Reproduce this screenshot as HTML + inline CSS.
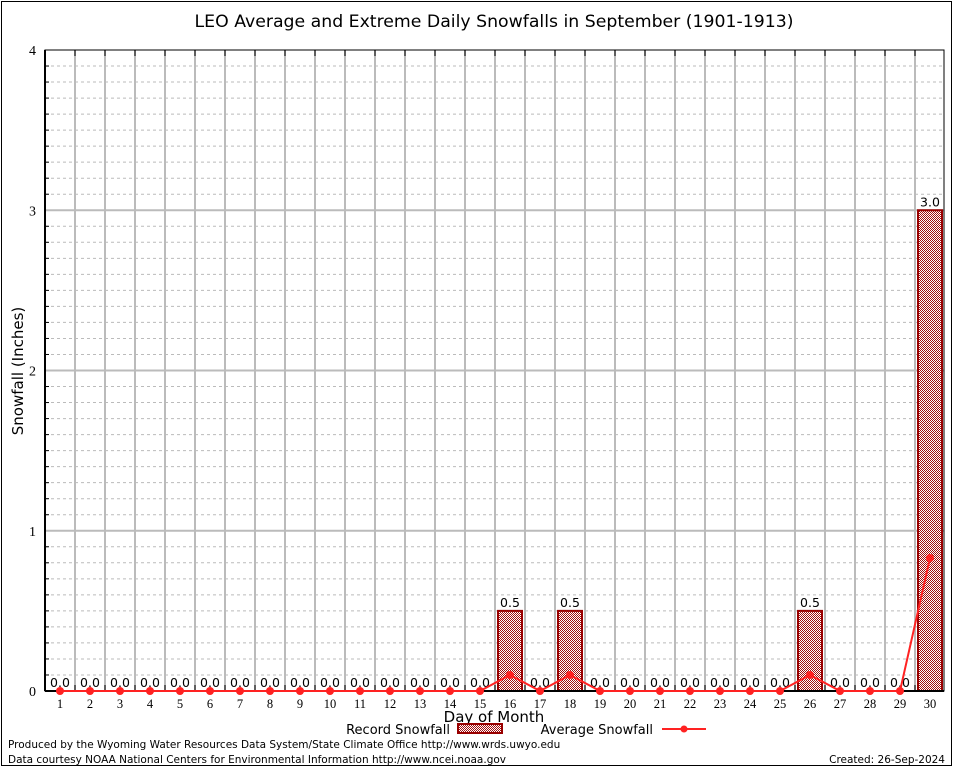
<!DOCTYPE html>
<html><head><meta charset="utf-8"><style>
body{margin:0;background:#fff}
svg{display:block;font-family:"DejaVu Sans","Liberation Sans",sans-serif}
</style></head><body>
<svg id="c" width="954" height="768">
<defs>
<pattern id="chk" width="2" height="2" patternUnits="userSpaceOnUse">
<rect width="2" height="2" fill="#fff"/><rect width="1" height="1" fill="#a01010"/><rect x="1" y="1" width="1" height="1" fill="#a01010"/>
</pattern>
</defs>
<rect x="1.5" y="1.5" width="950" height="764" fill="#fff" stroke="#000"/>
<text x="494" y="27" font-size="17.3" text-anchor="middle">LEO Average and Extreme Daily Snowfalls in September (1901-1913)</text>
<text transform="translate(23,371) rotate(-90)" font-size="15" text-anchor="middle">Snowfall (Inches)</text>
<text x="494" y="722" font-size="15" text-anchor="middle">Day of Month</text>
<g id="plot"></g>
<g>
<text x="450" y="734" font-size="13" text-anchor="end">Record Snowfall</text>
<rect x="458" y="724" width="44" height="9" fill="url(#chk)" stroke="#900" stroke-width="2"/>
<text x="653" y="734" font-size="13" text-anchor="end">Average Snowfall</text>
<line x1="662" y1="729" x2="706" y2="729" stroke="#f22" stroke-width="2"/>
<circle cx="684" cy="729" r="3.5" fill="#f22"/>
</g>
<text x="8" y="748" font-size="10.5">Produced by the Wyoming Water Resources Data System/State Climate Office http://www.wrds.uwyo.edu</text>
<text x="8" y="763" font-size="10.5">Data courtesy NOAA National Centers for Environmental Information http://www.ncei.noaa.gov</text>
<text x="945" y="763" font-size="10.5" text-anchor="end">Created: 26-Sep-2024</text>
</svg>
<script>
const days=[1,2,3,4,5,6,7,8,9,10,11,12,13,14,15,16,17,18,19,20,21,22,23,24,25,26,27,28,29,30];
const recordSnow=[0,0,0,0,0,0,0,0,0,0,0,0,0,0,0,0.5,0,0.5,0,0,0,0,0,0,0,0.5,0,0,0,3.0];
const avgSnow=[0,0,0,0,0,0,0,0,0,0,0,0,0,0,0,0.1,0,0.1,0,0,0,0,0,0,0,0.1,0,0,0,0.83];
const yTicks=[0,1,2,3,4];
const L=45,R=944,T=50,B=691,YMAX=4;
const x=d=>L+30*(d-1)+15;
const y=v=>B-(v/YMAX)*(B-T);
const NS="http://www.w3.org/2000/svg";
const g=document.getElementById('plot');
function mk(t,a,p){const e=document.createElementNS(NS,t);for(const k in a)e.setAttribute(k,a[k]);(p||g).appendChild(e);return e;}
for(let i=1;i<40;i++){if(i%10===0)continue;const yy=y(i/10);
const e=mk('line',{x1:L,x2:R,y1:yy,y2:yy,stroke:'#bbb','stroke-dasharray':'3,3'});


const t=mk('line',{x1:L,x2:L+4,y1:yy,y2:yy,stroke:'#000'});

}
for(let i=1;i<30;i++){const xx=L+30*i;
const e=mk('line',{x1:xx,x2:xx,y1:T,y2:B,stroke:'#bbb','stroke-width':2});


mk('line',{x1:xx,x2:xx,y1:T,y2:T+6,stroke:'#000'});
mk('line',{x1:xx,x2:xx,y1:B,y2:B-6,stroke:'#000'});}
yTicks.forEach(v=>{const yy=y(v);
if(v>0&&v<YMAX){const e=mk('line',{x1:L,x2:R,y1:yy,y2:yy,stroke:'#bbb','stroke-width':2});

}
const t=mk('text',{x:L-9,y:yy+5,'font-size':14,'text-anchor':'end','font-family':'Liberation Serif,serif'});t.textContent=v;

});
days.forEach((d,i)=>{const v=recordSnow[i];
if(v>0){const r=mk('rect',{x:x(d)-12,y:y(v),width:24,height:B-y(v),fill:'url(#chk)',stroke:'#900','stroke-width':2});

}
const t=mk('text',{x:x(d),y:y(v)-4,'font-size':12.5,'text-anchor':'middle'});t.textContent=v.toFixed(1);


const xl=mk('text',{x:x(d),y:B+17,'font-size':12.5,'text-anchor':'middle','font-family':'Liberation Serif,serif'});xl.textContent=d;

});
const ax=mk('rect',{x:L,y:T,width:R-L,height:B-T,fill:'none',stroke:'#000','stroke-width':1});


mk('line',{x1:L,x2:R,y1:B,y2:B,stroke:'#000','stroke-width':2});
mk('line',{x1:L,x2:L,y1:T,y2:B,stroke:'#000','stroke-width':2});
const pts=days.map((d,i)=>x(d)+','+y(avgSnow[i])).join(' ');
const pl=mk('polyline',{points:pts,fill:'none',stroke:'#f22','stroke-width':2});


days.forEach((d,i)=>{const c=mk('circle',{cx:x(d),cy:y(avgSnow[i]),r:4,fill:'#f22'});

});
</script>
</body></html>
